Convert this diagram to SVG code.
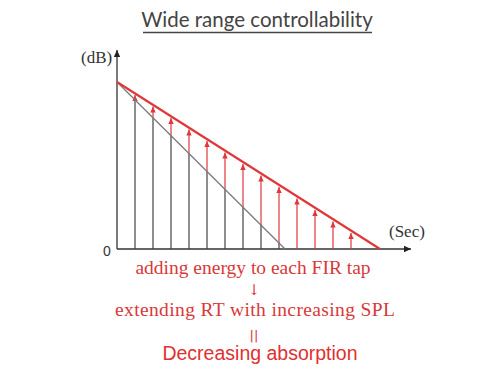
<svg xmlns="http://www.w3.org/2000/svg" width="500" height="375" viewBox="0 0 500 375">
<defs>
<style>
.ax{stroke:#333;stroke-width:1.3;fill:none}
.blk{stroke:#444;stroke-width:1.2}
.gry{stroke:#777;stroke-width:1.2}
.red{stroke:#e0383a;stroke-width:1.2}
.redl{stroke:#e0383a;stroke-width:2.2}
.serif{font-family:"Liberation Serif",serif}
.rt{fill:#d9383a}
</style>
<marker id="ah" markerWidth="8" markerHeight="8" refX="7" refY="4" orient="auto" markerUnits="userSpaceOnUse">
<path d="M0,0.8 L7,4 L0,7.2 Z" fill="#222"/>
</marker>
<marker id="rh" markerWidth="7" markerHeight="7" refX="6" refY="3.5" orient="auto" markerUnits="userSpaceOnUse">
<path d="M0,0.8 L6,3.5 L0,6.2 Z" fill="#e0383a"/>
</marker>
</defs>
<rect width="500" height="375" fill="#fff"/>
<g id="title">
<text x="257" y="27" text-anchor="middle" font-family="Lato,sans-serif" font-size="20.5" fill="#444">Wide range controllability</text>
<line x1="143" y1="32.5" x2="372" y2="32.5" stroke="#444" stroke-width="1.5"/>
</g>
<g id="axes">
<line class="ax" x1="117" y1="249" x2="117" y2="50" marker-end="url(#ah)"/>
<line class="ax" x1="117" y1="249" x2="411" y2="249" marker-end="url(#ah)"/>
<text class="serif" x="81" y="63" font-size="17" fill="#333">(dB)</text>
<text class="serif" x="389" y="237" font-size="17" fill="#333">(Sec)</text>
<text x="103" y="256" font-family="Liberation Sans,sans-serif" font-size="14" fill="#333">0</text>
</g>
<g id="taps">
<line class="blk" x1="135" y1="249" x2="135" y2="99.7"/>
<line class="blk" x1="153" y1="249" x2="153" y2="117.5"/>
<line class="blk" x1="171" y1="249" x2="171" y2="135.2"/>
<line class="blk" x1="189" y1="249" x2="189" y2="153"/>
<line class="blk" x1="207" y1="249" x2="207" y2="170.7"/>
<line class="blk" x1="225" y1="249" x2="225" y2="188.5"/>
<line class="blk" x1="243" y1="249" x2="243" y2="206.2"/>
<line class="blk" x1="261" y1="249" x2="261" y2="224"/>
<line class="blk" x1="279" y1="249" x2="279" y2="241.7"/>
</g>
<g id="added" class="red">
<line x1="135" y1="99.7" x2="135" y2="95" marker-end="url(#rh)"/>
<line x1="153" y1="117.5" x2="153" y2="106.5" marker-end="url(#rh)"/>
<line x1="171" y1="135.2" x2="171" y2="118" marker-end="url(#rh)"/>
<line x1="189" y1="153" x2="189" y2="129.5" marker-end="url(#rh)"/>
<line x1="207" y1="170.7" x2="207" y2="141" marker-end="url(#rh)"/>
<line x1="225" y1="188.5" x2="225" y2="152.5" marker-end="url(#rh)"/>
<line x1="243" y1="206.2" x2="243" y2="164" marker-end="url(#rh)"/>
<line x1="261" y1="224" x2="261" y2="175.5" marker-end="url(#rh)"/>
<line x1="279" y1="241.7" x2="279" y2="187" marker-end="url(#rh)"/>
<line x1="297" y1="249" x2="297" y2="198.5" marker-end="url(#rh)"/>
<line x1="315" y1="249" x2="315" y2="210" marker-end="url(#rh)"/>
<line x1="333" y1="249" x2="333" y2="221.5" marker-end="url(#rh)"/>
<line x1="351" y1="249" x2="351" y2="233" marker-end="url(#rh)"/>
</g>
<g id="decay-lines">
<line class="gry" x1="117" y1="82" x2="285" y2="249"/>
<line class="redl" x1="117" y1="82" x2="380" y2="249"/>
</g>
<g id="caption">
<text class="serif rt" x="253" y="274" text-anchor="middle" font-size="19.5">adding energy to each FIR tap</text>
<text x="254" y="295" text-anchor="middle" font-family="DejaVu Serif,serif" font-size="15" fill="#d9383a">↓</text>
<text class="serif rt" x="115" y="316" font-size="19.5" textLength="280">extending RT with increasing SPL</text>
<text x="254" y="340" text-anchor="middle" font-family="DejaVu Sans,sans-serif" font-size="13" fill="#d9383a">||</text>
<text x="260" y="360" text-anchor="middle" font-family="Liberation Sans,sans-serif" font-size="19.5" fill="#e0302f">Decreasing absorption</text>
</g>
</svg>
